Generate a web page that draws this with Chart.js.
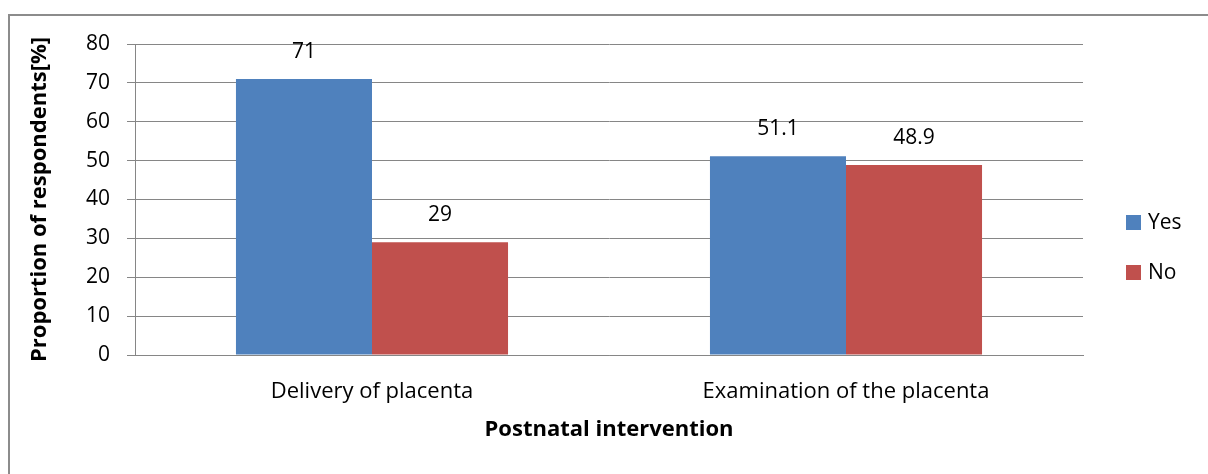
<!DOCTYPE html>
<html>
<head>
<meta charset="utf-8">
<script src="https://cdn.jsdelivr.net/npm/chart.js@4"></script>
<style>
  body { margin: 0; background: #fff; }
  #wrap { width: 1208px; height: 474px; }
</style>
</head>
<body>
<div id="wrap"><canvas id="chart" width="1208" height="474"></canvas></div>
<script>
const categories = ["Delivery of placenta", "Examination of the placenta"];
const seriesNames = ["Yes", "No"];
const yesValues = [71, 51.1];
const noValues = [29, 48.9];
const yTicks = [0, 10, 20, 30, 40, 50, 60, 70, 80];

const FONT = "'Open Sans', sans-serif";
const gridColor = "#868686";
const colors = ["#4F81BD", "#C0504D"];

// outer frame (only top and left edges show in the picture)
const framePlugin = {
  id: "frame",
  beforeDraw(chart) {
    const ctx = chart.ctx;
    ctx.save();
    ctx.strokeStyle = "#8c8c8c";
    ctx.lineWidth = 2;
    ctx.beginPath();
    ctx.moveTo(9, chart.height);
    ctx.lineTo(9, 15);
    ctx.lineTo(chart.width, 15);
    ctx.stroke();
    ctx.restore();
  },
};

// value labels above bars
const valueLabels = {
  id: "valueLabels",
  afterDatasetsDraw(chart) {
    const ctx = chart.ctx;
    ctx.save();
    ctx.font = "21px " + FONT;
    ctx.fillStyle = "#000";
    ctx.textAlign = "center";
    ctx.textBaseline = "middle";
    chart.data.datasets.forEach((ds, i) => {
      chart.getDatasetMeta(i).data.forEach((bar, j) => {
        ctx.fillText(String(ds.data[j]), bar.x, bar.y - 27);
      });
    });
    ctx.restore();
  },
};

// legend on the right
const sideLegend = {
  id: "sideLegend",
  afterDraw(chart) {
    const ctx = chart.ctx;
    ctx.save();
    ctx.font = "21px " + FONT;
    ctx.textBaseline = "middle";
    chart.data.datasets.forEach((ds, i) => {
      const y = 222 + i * 50;
      ctx.fillStyle = ds.backgroundColor;
      ctx.fillRect(1126, y - 7, 15, 15);
      ctx.fillStyle = "#000";
      ctx.fillText(ds.label, 1148, y + 1);
    });
    ctx.restore();
  },
};

new Chart(document.getElementById("chart"), {
  type: "bar",
  data: {
    labels: categories,
    datasets: [
      { label: seriesNames[0], data: yesValues, backgroundColor: colors[0] },
      { label: seriesNames[1], data: noValues, backgroundColor: colors[1] },
    ],
  },
  options: {
    responsive: false,
    animation: false,
    events: [],
    layout: { padding: { top: 44, right: 125, left: 0, bottom: 0 } },
    datasets: { bar: { categoryPercentage: 0.574, barPercentage: 1 } },
    plugins: { legend: { display: false }, tooltip: { enabled: false } },
    scales: {
      x: {
        grid: { display: false },
        border: { display: true, color: gridColor, width: 1 },
        ticks: { color: "#000", font: { family: FONT, size: 22 }, padding: 16, maxRotation: 0 },
        title: {
          display: true,
          text: "Postnatal intervention",
          color: "#000",
          font: { family: FONT, size: 22, weight: "bold" },
          padding: { top: 0, bottom: 31 },
        },
        afterFit(scale) { scale.height = 119; },
      },
      y: {
        min: 0,
        max: 80,
        afterBuildTicks(scale) { scale.ticks = yTicks.map((v) => ({ value: v })); },
        grid: { color: gridColor, lineWidth: 1, tickLength: 8 },
        border: { display: true, color: gridColor, width: 1 },
        ticks: { color: "#000", font: { family: FONT, size: 21 }, padding: 17 },
        title: {
          display: true,
          text: "Proportion of respondents[%]",
          color: "#000",
          font: { family: FONT, size: 22, weight: "bold" },
          padding: { top: 27, bottom: 0 },
        },
        afterFit(scale) { scale.width = 135; },
      },
    },
  },
  plugins: [framePlugin, valueLabels, sideLegend],
});
</script>
</body>
</html>
